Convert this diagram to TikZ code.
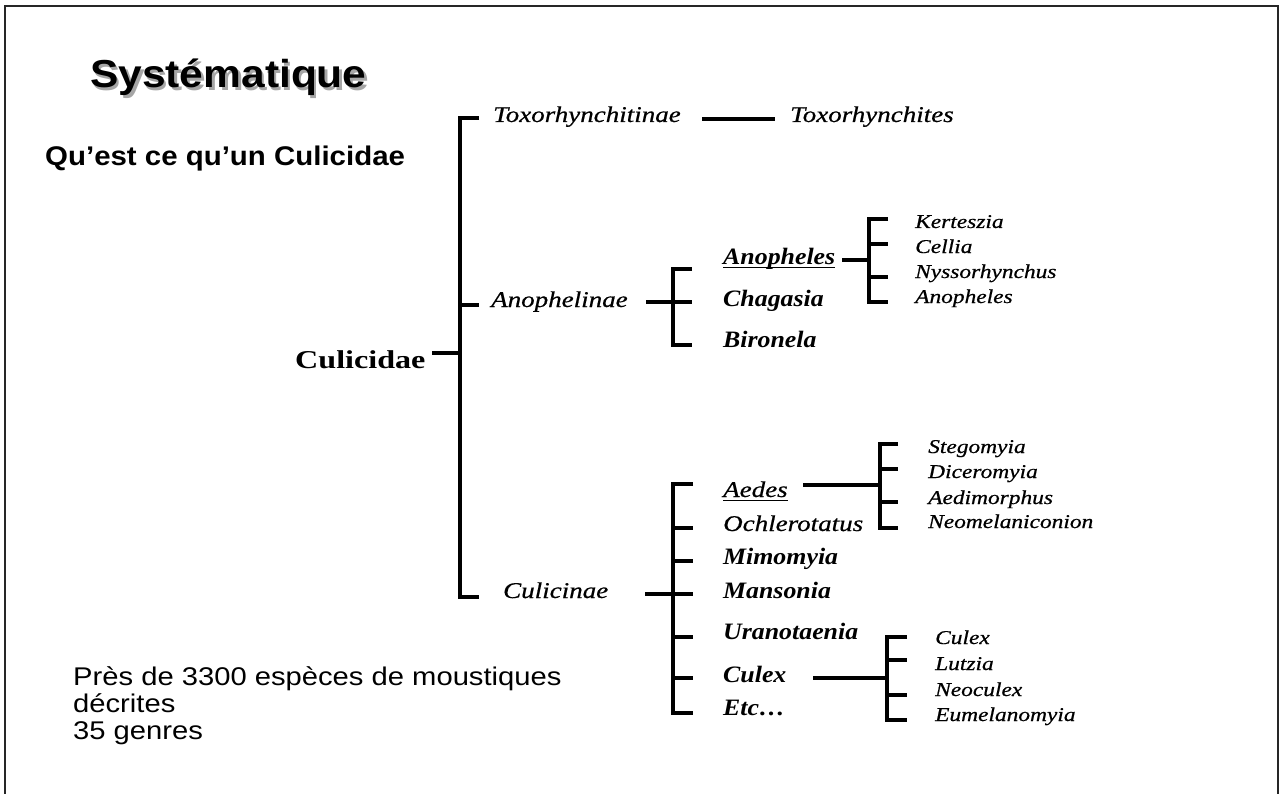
\documentclass[tikz,border=0pt]{standalone}
\usepackage{fontspec}
\setmainfont{Liberation Serif}
\setsansfont{Liberation Sans}
% Slide fonts: Arial-like sans for headings, Times-like serif (slightly widened) for taxa
\newfontfamily\headfont[FakeStretch=1.09]{Liberation Sans}
\newfontfamily\notefont[FakeStretch=1.14]{Liberation Sans}
\newfontfamily\taxIt[FakeStretch=1.2, FakeBold=0.6]{Liberation Serif}
\newfontfamily\taxBI[FakeStretch=1.1]{Liberation Serif}
\newfontfamily\taxBd[FakeStretch=1.25]{Liberation Serif}
\tikzset{
  lbl/.style={inner sep=0pt, anchor=base west},
  it/.style={lbl, font=\taxIt\itshape\fontsize{22.5}{26}\selectfont},
  bi/.style={lbl, font=\taxBI\bfseries\itshape\fontsize{23.5}{28}\selectfont},
  sub/.style={lbl, font=\taxIt\itshape\fontsize{19.5}{23}\selectfont},
  br/.style={line width=3.5pt, line cap=butt, line join=miter},
  uline/.style={line width=1.5pt},
}
\begin{document}
\begin{tikzpicture}[x=1pt, y=-1pt]
\useasboundingbox (0,0) rectangle (1281,794);
\fill[white] (0,0) rectangle (1281,794);
% slide frame (its lower edge lies below the page)
\draw[line width=2pt, black!85] (5,800) -- (5,6) -- (1278,6) -- (1278,800);

% headings
\node[lbl, font=\headfont\bfseries\fontsize{39}{44}\selectfont, text=black!35] (titleshadow) at (92.5,90.5) {Systématique};
\node[lbl, font=\headfont\bfseries\fontsize{39}{44}\selectfont] (title) at (90,88) {Systématique};
\node[lbl, font=\headfont\bfseries\fontsize{27}{32}\selectfont] (question) at (45,166) {Qu’est ce qu’un Culicidae};

% note
\node[lbl, font=\notefont\fontsize{25.6}{27}\selectfont, align=left, anchor=north west] (note) at (73,666)
  {Près de 3300 espèces de moustiques\\décrites\\35 genres};

% family
\node[lbl, font=\taxBd\bfseries\fontsize{25.7}{30}\selectfont] (culicidae) at (295,368) {Culicidae};

% subfamilies
\node[it] (toxsf) at (493,122) {Toxorhynchitinae};
\node[it] (toxg) at (790,122) {Toxorhynchites};
\node[it] (anosf) at (491,307) {Anophelinae};
\node[it] (culsf) at (503,598) {Culicinae};

% Anophelinae genera
\node[bi] (anog) at (723,264) {Anopheles};
\node[bi] (chag) at (723,306) {Chagasia};
\node[bi] (biro) at (723,347) {Bironela};
\draw[uline] ([yshift=-3.5pt]anog.base west) -- ([yshift=-3.5pt]anog.base east);

% Anopheles subgenera
\node[sub] (kert) at (915,228) {Kerteszia};
\node[sub] (cell) at (915,253) {Cellia};
\node[sub] (nyss) at (915,278) {Nyssorhynchus};
\node[sub] (anos) at (915,303) {Anopheles};

% Culicinae genera
\node[it] (aedes) at (723,497) {Aedes};
\draw[uline] ([yshift=-3.5pt]aedes.base west) -- ([yshift=-3.5pt]aedes.base east);
\node[it] (ochl) at (723,531) {Ochlerotatus};
\node[bi] (mimo) at (723,564) {Mimomyia};
\node[bi] (mans) at (723,598) {Mansonia};
\node[bi] (uran) at (723,639) {Uranotaenia};
\node[bi] (culg) at (723,682) {Culex};
\node[bi] (etc) at (723,715) {Etc\dots};

% Aedes subgenera
\node[sub] (steg) at (928,453) {Stegomyia};
\node[sub] (dice) at (928,478) {Diceromyia};
\node[sub] (aedi) at (928,504) {Aedimorphus};
\node[sub] (neom) at (928,528) {Neomelaniconion};

% Culex subgenera
\node[sub] (culs) at (935,644) {Culex};
\node[sub] (lutz) at (935,670) {Lutzia};
\node[sub] (neoc) at (935,696) {Neoculex};
\node[sub] (eume) at (935,721) {Eumelanomyia};

% ---- bracket joints ----
\coordinate (famstem) at (432,353);
\coordinate (famspine) at (460,353);
\coordinate (fambot) at (460,597);
\coordinate (famtoxtick) at (479,118);
\coordinate (famanotick) at (479,305);
\coordinate (famcultick) at (479,597);

\coordinate (toxl) at (702,119);
\coordinate (toxr) at (775,119);

\coordinate (anostem) at (646,302);
\coordinate (anospine) at (673,302);
\coordinate (anotop) at (692,269);
\coordinate (anomid) at (692,302);
\coordinate (anobot) at (692,345);

\coordinate (anogstem) at (842,260);
\coordinate (anogspine) at (869,260);
\coordinate (anogt1) at (888,219);
\coordinate (anogt2) at (888,244);
\coordinate (anogt3) at (888,277);
\coordinate (anogt4) at (888,302);

\coordinate (culstem) at (645,594);
\coordinate (culspine) at (673,594);
\coordinate (cult1) at (693,484);
\coordinate (cult2) at (693,528);
\coordinate (cult3) at (693,561);
\coordinate (cult4) at (693,594);
\coordinate (cult5) at (693,637);
\coordinate (cult6) at (693,678);
\coordinate (cult7) at (693,713);

\coordinate (aedstem) at (803,485);
\coordinate (aedspine) at (880,485);
\coordinate (aedt1) at (898,444);
\coordinate (aedt2) at (898,469);
\coordinate (aedt3) at (898,502);
\coordinate (aedt4) at (898,528);

\coordinate (cxstem) at (813,678);
\coordinate (cxspine) at (887,678);
\coordinate (cxt1) at (907,637);
\coordinate (cxt2) at (907,660);
\coordinate (cxt3) at (907,695);
\coordinate (cxt4) at (907,720);

% ---- brackets ----
% Culicidae
\draw[br] (famstem) -- (famspine);
\draw[br] (famtoxtick) -| (fambot) -- (famcultick);
\draw[br] (famspine |- famanotick) -- (famanotick);
% Toxorhynchitinae
\draw[br] (toxl) -- (toxr);
% Anophelinae
\draw[br] (anostem) -- (anomid);
\draw[br] (anotop) -| (anospine |- anobot) -- (anobot);
% Anopheles
\draw[br] (anogstem) -- (anogspine);
\draw[br] (anogt1) -| (anogspine |- anogt4) -- (anogt4);
\draw[br] (anogspine |- anogt2) -- (anogt2);
\draw[br] (anogspine |- anogt3) -- (anogt3);
% Culicinae
\draw[br] (culstem) -- (cult4);
\draw[br] (cult1) -| (culspine |- cult7) -- (cult7);
\foreach \t in {cult2,cult3,cult5,cult6}
  \draw[br] (culspine |- \t) -- (\t);
% Aedes
\draw[br] (aedstem) -- (aedspine);
\draw[br] (aedt1) -| (aedspine |- aedt4) -- (aedt4);
\draw[br] (aedspine |- aedt3) -- (aedt3);
\draw[br] (aedspine |- aedt2) -- (aedt2);
% Culex
\draw[br] (cxstem) -- (cxspine);
\draw[br] (cxt1) -| (cxspine |- cxt4) -- (cxt4);
\draw[br] (cxspine |- cxt2) -- (cxt2);
\draw[br] (cxspine |- cxt3) -- (cxt3);
\end{tikzpicture}
\end{document}
